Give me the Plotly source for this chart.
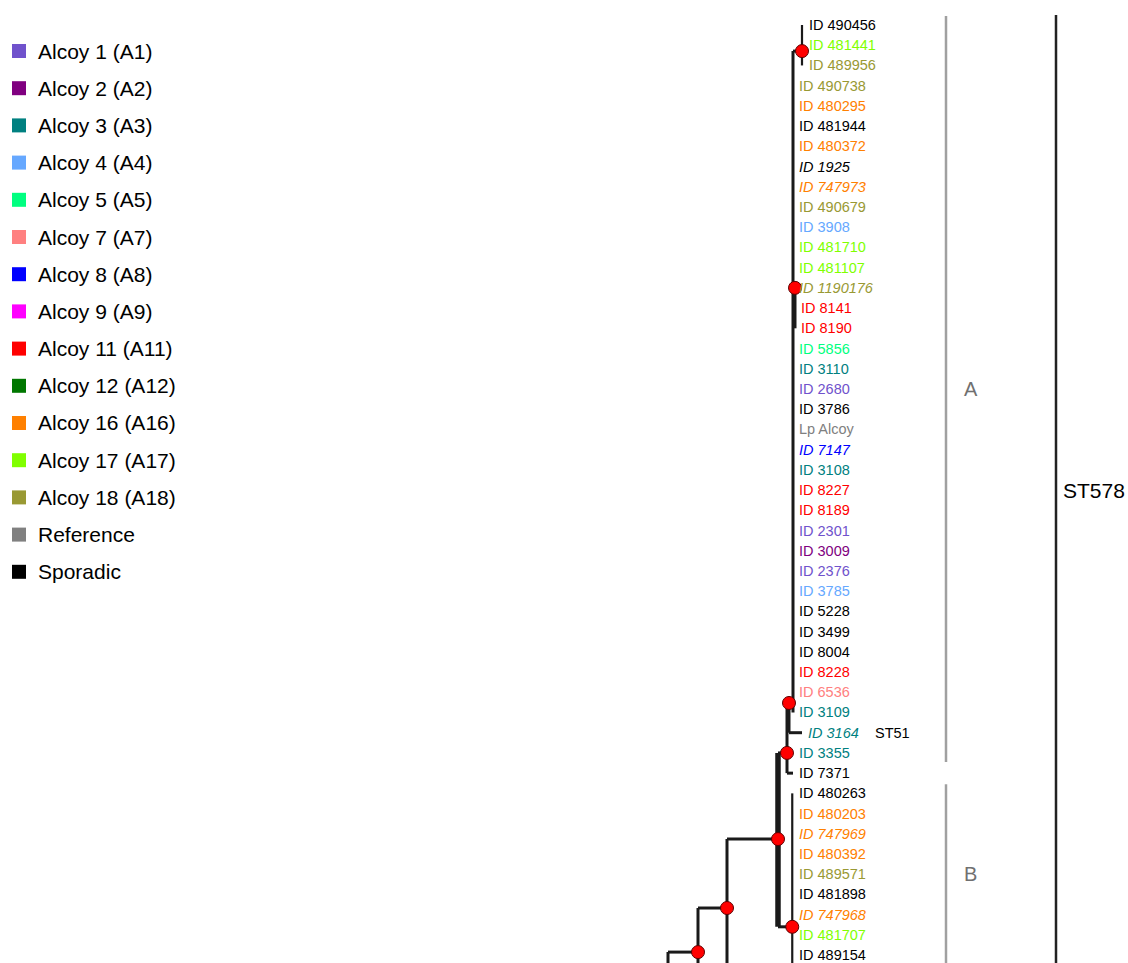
import plotly.graph_objects as go

# ---------------- data ----------------
legend_names = ["Alcoy 1 (A1)", "Alcoy 2 (A2)", "Alcoy 3 (A3)", "Alcoy 4 (A4)", "Alcoy 5 (A5)",
                "Alcoy 7 (A7)", "Alcoy 8 (A8)", "Alcoy 9 (A9)", "Alcoy 11 (A11)", "Alcoy 12 (A12)",
                "Alcoy 16 (A16)", "Alcoy 17 (A17)", "Alcoy 18 (A18)", "Reference", "Sporadic"]
legend_keys = ["A1", "A2", "A3", "A4", "A5", "A7", "A8", "A9", "A11", "A12", "A16", "A17", "A18", "REF", "SPO"]
group_colors = {"A1": "#7052CC", "A2": "#800080", "A3": "#008080", "A4": "#66A8FF", "A5": "#00FF80",
                "A7": "#FF8080", "A8": "#0000FF", "A9": "#FF00FF", "A11": "#FF0000", "A12": "#007700",
                "A16": "#FF8000", "A17": "#80FF00", "A18": "#999933", "REF": "#808080", "SPO": "#000000"}

leaf_labels = ["ID 490456", "ID 481441", "ID 489956", "ID 490738", "ID 480295", "ID 481944", "ID 480372",
               "ID 1925", "ID 747973", "ID 490679", "ID 3908", "ID 481710", "ID 481107", "ID 1190176",
               "ID 8141", "ID 8190", "ID 5856", "ID 3110", "ID 2680", "ID 3786", "Lp Alcoy", "ID 7147",
               "ID 3108", "ID 8227", "ID 8189", "ID 2301", "ID 3009", "ID 2376", "ID 3785", "ID 5228",
               "ID 3499", "ID 8004", "ID 8228", "ID 6536", "ID 3109", "ID 3164", "ID 3355", "ID 7371",
               "ID 480263", "ID 480203", "ID 747969", "ID 480392", "ID 489571", "ID 481898", "ID 747968",
               "ID 481707", "ID 489154"]
leaf_groups = ["SPO", "A17", "A18", "A18", "A16", "SPO", "A16",
               "SPO", "A16", "A18", "A4", "A17", "A17", "A18",
               "A11", "A11", "A5", "A3", "A1", "SPO", "REF", "A8",
               "A3", "A11", "A11", "A1", "A2", "A1", "A4", "SPO",
               "SPO", "SPO", "A11", "A7", "A3", "A3", "A3", "SPO",
               "SPO", "A16", "A16", "A16", "A18", "SPO", "A16",
               "A17", "SPO"]
leaf_italic = ["ID 1925", "ID 747973", "ID 1190176", "ID 7147", "ID 3164", "ID 747969", "ID 747968"]
leaf_parent = (["N_top"] * 3 + ["N_main"] * 11 + ["N_mid"] * 2 + ["N_main"] * 19 +
               ["N_A2"] + ["N_A3"] * 2 + ["N_B"] * 9)
leaf_depth = ([1.08] * 3 + [1.0] * 11 + [1.016] * 2 + [1.0] * 19 +
              [1.072] + [1.0] * 2 + [1.0] * 9)

# internal nodes: name, parent, depth, row
node_names = ["N_668", "N_698", "N_727", "N_AB", "N_A3", "N_A2", "N_main", "N_top", "N_mid", "N_B",
              "X1", "X2", "X3"]
node_parent = [None, "N_668", "N_698", "N_727", "N_AB", "N_A3", "N_A2", "N_main", "N_main", "N_AB",
               "N_727", "N_698", "N_668"]
node_depth = [0.0, 0.24, 0.472, 0.88, 0.952, 0.968, 1.0, 1.072, 1.016, 0.994, 0.70, 0.60, 0.40]
node_row = [48.5, 45.85, 43.67, 40.26, 36.0, 33.53, 33.53, 1.29, 13.0, 44.6, 56.0, 58.0, 62.0]
supported_nodes = ["N_top", "N_mid", "N_A2", "N_A3", "N_AB", "N_B", "N_727", "N_698"]

clade_names = ["A", "B"]
clade_first = [0, 38]
clade_last = [36, 46]
st_name = "ST578"
st_first, st_last = 0, 46
st51_leaf = "ID 3164"
st51_label = "ST51"

# ---------------- layout constants ----------------
W, H = 1128, 963
ROW0_PX, ROW_PX = 25, 20.22
X0_PX, DEPTH_PX = 668, 125.0
FONT = "Liberation Sans, Arial, sans-serif"
LINE = "#1a1a1a"

xr = [(0 - X0_PX) / DEPTH_PX, (W - X0_PX) / DEPTH_PX]
yr = [(H - ROW0_PX) / ROW_PX, (0 - ROW0_PX) / ROW_PX]


def px_x(p):
    """page pixel x -> data x"""
    return (p - X0_PX) / DEPTH_PX


def pap_x(p):
    return p / W


def pap_y(p):
    return 1 - p / H


# ---------------- build tree geometry ----------------
pos = {}
for n, d, r in zip(node_names, node_depth, node_row):
    pos[n] = (d, r)
children = {n: [] for n in node_names}
for n, p in zip(node_names, node_parent):
    if p is not None:
        children[p].append(pos[n])
leaf_pos = []
for i, (p, d) in enumerate(zip(leaf_parent, leaf_depth)):
    leaf_pos.append((d, i))
    children[p].append((d, i))

thick_v = {"N_AB": 5.5}
thin_v = {"N_top": 2.2, "N_B": 2.2}

fig = go.Figure()

# horizontals
hx, hy = [], []
for n, p in zip(node_names, node_parent):
    if p is not None:
        hx += [pos[p][0], pos[n][0], None]
        hy += [pos[n][1], pos[n][1], None]
for (d, r), p in zip(leaf_pos, leaf_parent):
    if d > pos[p][0] + 0.01:
        hx += [pos[p][0], d, None]
        hy += [r, r, None]
fig.add_trace(go.Scatter(x=hx, y=hy, mode="lines", line=dict(color=LINE, width=3),
                         hoverinfo="skip", showlegend=False))

# verticals
for n in node_names:
    if not children[n]:
        continue
    rows = [c[1] for c in children[n]] + [pos[n][1]]
    if n == "N_B":
        rows.append(max(rows) + 1)
    w = thick_v.get(n, thin_v.get(n, 3))
    fig.add_trace(go.Scatter(x=[pos[n][0], pos[n][0]], y=[min(rows), max(rows)], mode="lines",
                             line=dict(color=LINE, width=w), hoverinfo="skip", showlegend=False))

# support dots
fig.add_trace(go.Scatter(x=[pos[n][0] for n in supported_nodes], y=[pos[n][1] for n in supported_nodes],
                         mode="markers", marker=dict(size=13, color="#FF0000",
                                                     line=dict(color="#5a0000", width=1)),
                         hoverinfo="skip", showlegend=False))

annotations = []
# leaf labels
for (d, r), lab, g in zip(leaf_pos, leaf_labels, leaf_groups):
    txt = "<i>%s</i>" % lab if lab in leaf_italic else lab
    annotations.append(dict(x=d, y=r, xref="x", yref="y", text=txt, showarrow=False,
                            xanchor="left", yanchor="middle", xshift=4,
                            font=dict(family=FONT, size=14.5, color=group_colors[g])))
# ST51
i51 = leaf_labels.index(st51_leaf)
annotations.append(dict(x=px_x(873), y=i51, xref="x", yref="y", text=st51_label, showarrow=False,
                        xanchor="left", yanchor="middle", font=dict(family=FONT, size=14.5, color="#000")))

shapes = []
# clade bars
bar_x = px_x(946)
for name, a, b in zip(clade_names, clade_first, clade_last):
    shapes.append(dict(type="line", xref="x", yref="y", x0=bar_x, x1=bar_x, y0=a - 0.45,
                       y1=b + 0.45 + (2 if name == "B" else 0),
                       line=dict(color="#a0a0a0", width=2.5)))
    annotations.append(dict(x=px_x(962), y=(a + b) / 2, xref="x", yref="y", text=name, showarrow=False,
                            xanchor="left", yanchor="middle", font=dict(family=FONT, size=20, color="#707070")))
st_x = px_x(1056)
shapes.append(dict(type="line", xref="x", yref="y", x0=st_x, x1=st_x, y0=st_first - 0.5, y1=st_last + 2,
                   line=dict(color="#222222", width=2.5)))
annotations.append(dict(x=px_x(1061), y=(st_first + st_last) / 2, xref="x", yref="y", text=st_name,
                        showarrow=False, xanchor="left", yanchor="middle",
                        font=dict(family=FONT, size=21, color="#000")))

# legend (manual)
for i, (name, key) in enumerate(zip(legend_names, legend_keys)):
    yc = 51 + i * 37.2
    shapes.append(dict(type="rect", xref="paper", yref="paper", x0=pap_x(12), x1=pap_x(26),
                       y0=pap_y(yc + 7), y1=pap_y(yc - 7), fillcolor=group_colors[key],
                       line=dict(width=0)))
    annotations.append(dict(x=pap_x(36), y=pap_y(yc), xref="paper", yref="paper", text=name, showarrow=False,
                            xanchor="left", yanchor="middle", font=dict(family=FONT, size=21, color="#000")))

fig.update_layout(width=W, height=H, margin=dict(l=0, r=0, t=0, b=0), paper_bgcolor="white",
                  plot_bgcolor="white", showlegend=False, shapes=shapes, annotations=annotations,
                  hovermode=False)
fig.update_xaxes(range=xr, visible=False, showgrid=False, zeroline=False, fixedrange=True)
fig.update_yaxes(range=yr, visible=False, showgrid=False, zeroline=False, fixedrange=True)
fig.write_html("out.html", config={"displayModeBar": False, "staticPlot": True},
               post_script="document.body.style.margin='0';document.body.style.overflow='hidden';")
